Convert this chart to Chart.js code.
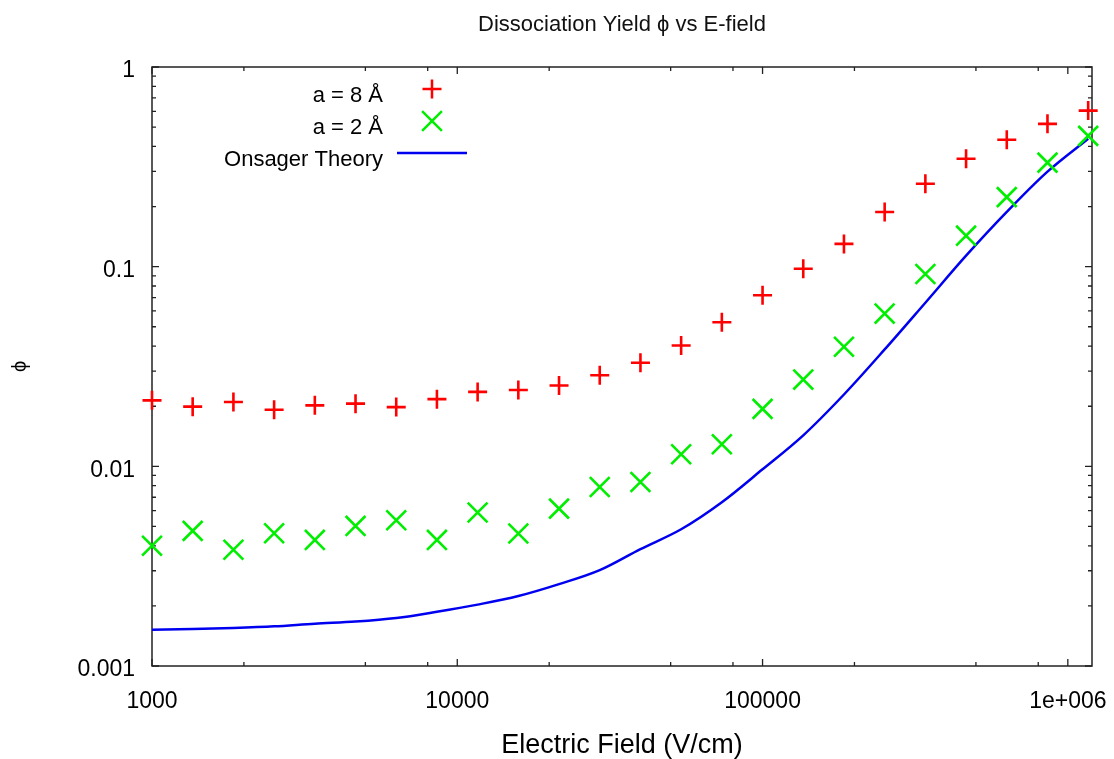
<!DOCTYPE html>
<html>
<head>
<meta charset="utf-8">
<title>Dissociation Yield</title>
<script src="https://cdn.jsdelivr.net/npm/chart.js@4.4.1/dist/chart.umd.min.js"></script>
<style>
    html, body { margin: 0; padding: 0; background: #fff; }
    #wrap { width: 1114px; height: 759px; position: relative; }
</style>
</head>
<body>
<div id="wrap"><canvas id="graficoYield"></canvas></div>
<script>
// ============================================================================
// DATA
// ============================================================================
// electric field (V/cm), same grid for all three series
const campo = [1000, 1359, 1848, 2512, 3415, 4642, 6310, 8577, 11659, 15849, 21544, 29286,
               39811, 54117, 73564, 100000, 135936, 184785, 251189, 341455, 464159, 630957, 857696, 1165914];

// simulated yield, a = 8 Å
const yield8A = [0.0214, 0.0199, 0.0210, 0.0192, 0.0202, 0.0206, 0.0198, 0.0217, 0.0236, 0.0241, 0.0254, 0.0286,
                 0.0330, 0.0403, 0.0527, 0.0719, 0.0977, 0.130, 0.188, 0.260, 0.347, 0.432, 0.519, 0.605];

// simulated yield, a = 2 Å
const yield2A = [0.00400, 0.00475, 0.00382, 0.00462, 0.00428, 0.00503, 0.00537, 0.00428, 0.00587, 0.00461, 0.00614, 0.00788,
                 0.00835, 0.0115, 0.0129, 0.0194, 0.0272, 0.0397, 0.0582, 0.0919, 0.143, 0.223, 0.332, 0.452];

// Onsager theory curve
const onsager = [0.00152, 0.00153, 0.00155, 0.00158, 0.00163, 0.00167, 0.00174, 0.00187, 0.00203, 0.00224, 0.00257, 0.00302,
                 0.00385, 0.00484, 0.00661, 0.00966, 0.0143, 0.0229, 0.0385, 0.0660, 0.1135, 0.188, 0.299, 0.437];

const seriesLabels = ['a = 8 Å', 'a = 2 Å', 'Onsager Theory'];

// axis ticks
const xMajor = [1000, 10000, 100000, 1000000];
const xMajorLabels = ['1000', '10000', '100000', '1e+006'];
const xMinor = [2000, 5000, 8000, 20000, 50000, 80000, 200000, 500000, 800000];

const yMajor = [0.001, 0.01, 0.1, 1];
const yMajorLabels = ['0.001', '0.01', '0.1', '1'];
const yMinor = [0.002, 0.003, 0.004, 0.005, 0.006, 0.007, 0.008, 0.009,
                0.02, 0.03, 0.04, 0.05, 0.06, 0.07, 0.08, 0.09,
                0.2, 0.3, 0.4, 0.5, 0.6, 0.7, 0.8, 0.9];

const FONTE = '"Liberation Sans", Arial, sans-serif';
Chart.defaults.font.family = FONTE;
Chart.defaults.color = '#000';

const RED = '#ff0000';
const GREEN = '#00ee00';
const BLUE = '#0000f0';


// ============================================================================
// PLUGIN: box + inward ticks on all four sides
// ============================================================================
const moldura = {
    id: 'moldura',
    beforeDatasetsDraw(chart) {
        const { ctx, chartArea: a, scales } = chart;
        ctx.save();
        ctx.strokeStyle = '#222';
        ctx.lineWidth = 1.5;
        ctx.strokeRect(a.left, a.top, a.right - a.left, a.bottom - a.top);

        ctx.lineWidth = 1.3;
        ctx.beginPath();
        const tickX = (v, len) => {
            const px = scales.x.getPixelForValue(v);
            ctx.moveTo(px, a.bottom); ctx.lineTo(px, a.bottom - len);
            ctx.moveTo(px, a.top);    ctx.lineTo(px, a.top + len);
        };
        const tickY = (v, len) => {
            const py = scales.y.getPixelForValue(v);
            ctx.moveTo(a.left, py);  ctx.lineTo(a.left + len, py);
            ctx.moveTo(a.right, py); ctx.lineTo(a.right - len, py);
        };
        xMajor.forEach(v => tickX(v, 7));
        xMinor.forEach(v => tickX(v, 4));
        yMajor.forEach(v => tickY(v, 7));
        yMinor.forEach(v => tickY(v, 4));
        ctx.stroke();
        ctx.restore();
    }
};


// ============================================================================
// PLUGIN: legend (text on the left, symbol on the right)
// ============================================================================
const legenda = {
    id: 'legenda',
    afterDraw(chart) {
        const { ctx, chartArea: a } = chart;
        const textoX = a.left + 231;
        const simboloX = a.left + 280;

        ctx.save();
        ctx.font = '22px ' + FONTE;
        ctx.fillStyle = '#000';
        ctx.textAlign = 'right';
        ctx.textBaseline = 'alphabetic';

        chart.data.datasets.forEach((ds, i) => {
            const base = a.top + 35 + 32 * i;
            const sy = base - 13;
            ctx.fillText(ds.label, textoX, base);

            ctx.beginPath();
            ctx.strokeStyle = ds.borderColor;
            ctx.lineWidth = 2.5;
            if (ds.pointStyle === 'cross') {
                const r = ds.pointRadius;
                ctx.moveTo(simboloX - r, sy); ctx.lineTo(simboloX + r, sy);
                ctx.moveTo(simboloX, sy - r); ctx.lineTo(simboloX, sy + r);
            } else if (ds.pointStyle === 'crossRot') {
                const r = ds.pointRadius * Math.SQRT1_2;
                ctx.moveTo(simboloX - r, sy - r); ctx.lineTo(simboloX + r, sy + r);
                ctx.moveTo(simboloX + r, sy - r); ctx.lineTo(simboloX - r, sy + r);
            } else {
                ctx.moveTo(simboloX - 35, sy); ctx.lineTo(simboloX + 35, sy);
            }
            ctx.stroke();
        });
        ctx.restore();
    }
};


// ============================================================================
// CHART
// ============================================================================
const pontos = ys => campo.map((x, i) => ({ x, y: ys[i] }));

new Chart(document.getElementById('graficoYield'), {
    type: 'scatter',
    data: {
        datasets: [
            {
                label: seriesLabels[0],
                data: pontos(yield8A),
                pointStyle: 'cross',
                pointRadius: 9.5,
                pointBorderWidth: 2.6,
                borderColor: RED,
                backgroundColor: RED,
                clip: false
            },
            {
                label: seriesLabels[1],
                data: pontos(yield2A),
                pointStyle: 'crossRot',
                pointRadius: 14,
                pointBorderWidth: 2.6,
                borderColor: GREEN,
                backgroundColor: GREEN,
                clip: false
            },
            {
                label: seriesLabels[2],
                data: pontos(onsager),
                showLine: true,
                pointRadius: 0,
                borderColor: BLUE,
                backgroundColor: BLUE,
                borderWidth: 2.5,
                cubicInterpolationMode: 'monotone'
            }
        ]
    },
    options: {
        responsive: true,
        maintainAspectRatio: false,
        animation: false,
        events: [],
        layout: { padding: { left: 0, right: 22, top: 0, bottom: 0 } },
        plugins: {
            legend: { display: false },
            tooltip: { enabled: false },
            title: {
                display: true,
                text: 'Dissociation Yield ϕ vs E-field',
                fullSize: false,
                color: '#111',
                font: { size: 22, weight: 'normal' },
                padding: { top: 12, bottom: 28.6 }
            }
        },
        scales: {
            x: {
                type: 'logarithmic',
                min: 1000,
                max: 1200000,
                grid: { display: false, drawTicks: true, tickLength: 20 },
                border: { display: false },
                ticks: {
                    padding: 2,
                    autoSkip: false,
                    maxRotation: 0,
                    font: { size: 23 },
                    callback: v => xMajorLabels[xMajor.indexOf(v)] ?? ''
                },
                afterBuildTicks: s => { s.ticks = xMajor.map(v => ({ value: v })); },
                afterFit: s => { s.height = 93; },
                title: {
                    display: true,
                    text: 'Electric Field (V/cm)',
                    font: { size: 27, lineHeight: 1 },
                    padding: { top: 0, bottom: 0 }
                }
            },
            y: {
                type: 'logarithmic',
                min: 0.001,
                max: 1,
                grid: { display: false, drawTicks: true, tickLength: 14 },
                border: { display: false },
                ticks: {
                    padding: 3,
                    labelOffset: 4,
                    autoSkip: false,
                    font: { size: 23 },
                    callback: v => yMajorLabels[yMajor.indexOf(v)] ?? ''
                },
                afterBuildTicks: s => { s.ticks = yMajor.map(v => ({ value: v })); },
                afterFit: s => { s.width = 152; },
                title: {
                    display: true,
                    text: 'ϕ',
                    font: { size: 20, lineHeight: 1 },
                    padding: { top: 10, bottom: 0 }
                }
            }
        }
    },
    plugins: [moldura, legenda]
});
</script>
</body>
</html>
